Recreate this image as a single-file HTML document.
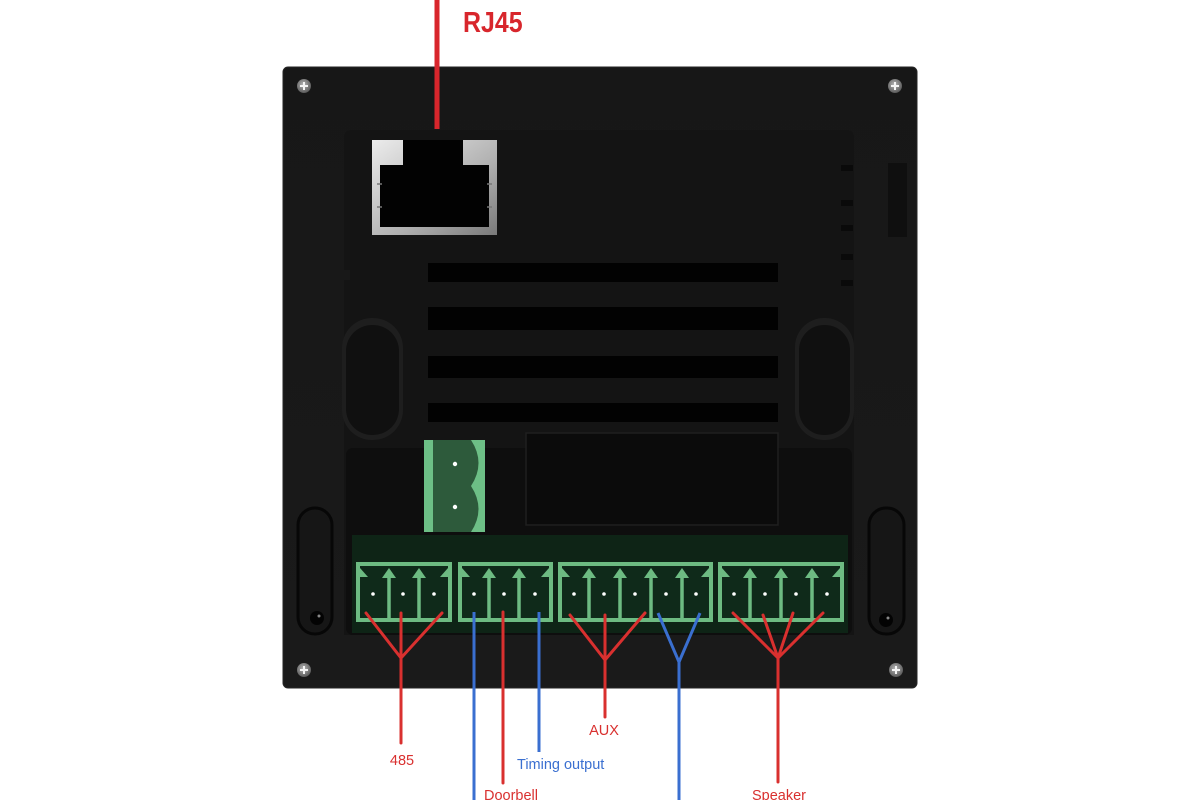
<!DOCTYPE html>
<html><head><meta charset="utf-8"><style>
html,body{margin:0;padding:0;background:#fff;}
svg{display:block;}
</style></head><body>
<svg width="1200" height="800" viewBox="0 0 1200 800" xmlns="http://www.w3.org/2000/svg">
<defs>
<radialGradient id="scr" cx="45%" cy="40%" r="60%"><stop offset="0" stop-color="#b8b8b8"/><stop offset="1" stop-color="#5a5a5a"/></radialGradient>
<linearGradient id="silver" x1="0" y1="0" x2="1" y2="1"><stop offset="0" stop-color="#ececec"/><stop offset="0.6" stop-color="#b0b0b0"/><stop offset="1" stop-color="#7a7a7a"/></linearGradient>
<linearGradient id="bodyg" x1="0" y1="0" x2="0" y2="1"><stop offset="0" stop-color="#171717"/><stop offset="1" stop-color="#1a1a1a"/></linearGradient>
</defs>
<rect width="1200" height="800" fill="#fff"/>
<!-- body -->
<rect x="283" y="67" width="634" height="621" rx="5" fill="url(#bodyg)" stroke="#262626" stroke-width="1"/>
<!-- inner panel -->
<path d="M352,130 L846,130 Q854,130 854,138 L854,635 L344,635 L344,280 L350,280 L350,270 L344,270 L344,138 Q344,130 352,130 Z" fill="#141414"/>
<!-- right side marks -->
<g fill="#0a0a0a">
<rect x="841" y="165" width="12" height="6"/><rect x="841" y="200" width="12" height="6"/><rect x="841" y="225" width="12" height="6"/><rect x="841" y="254" width="12" height="6"/><rect x="841" y="280" width="12" height="6"/>
</g>
<rect x="888" y="163" width="19" height="74" fill="#0f0f0f"/>
<!-- RJ45 port -->
<rect x="372" y="140" width="125" height="95" fill="url(#silver)"/>
<polygon points="403,140 463,140 463,165 489,165 489,227 380,227 380,165 403,165" fill="#020202"/>
<g stroke="#777" stroke-width="1.5"><line x1="377" y1="184" x2="382" y2="184"/><line x1="377" y1="207" x2="382" y2="207"/><line x1="487" y1="184" x2="492" y2="184"/><line x1="487" y1="207" x2="492" y2="207"/></g>
<!-- vents -->
<g fill="#020202">
<rect x="428" y="263" width="350" height="19"/><rect x="428" y="307" width="350" height="23"/><rect x="428" y="356" width="350" height="22"/><rect x="428" y="403" width="350" height="19"/>
</g>
<!-- ovals -->
<rect x="342" y="318" width="61" height="122" rx="30" fill="#1e1e1e"/>
<rect x="346" y="325" width="53" height="110" rx="26" fill="#101010"/>
<rect x="795" y="318" width="59" height="122" rx="29" fill="#1e1e1e"/>
<rect x="799" y="325" width="51" height="110" rx="25" fill="#101010"/>
<!-- lower panel -->
<rect x="346" y="448" width="506" height="187" rx="7" fill="#0e0e0e"/>
<!-- display -->
<rect x="526" y="433" width="252" height="92" fill="#0b0b0b" stroke="#1f1f1f" stroke-width="1.5"/>
<!-- green 2-pin connector -->
<rect x="424" y="440" width="61" height="92" fill="#6dbf86"/>
<path d="M433,440 L471,440 Q486,463 471,486 Q486,509 471,532 L433,532 Z" fill="#2d5a3b"/>
<circle cx="455" cy="464" r="2.2" fill="#fff"/><circle cx="455" cy="507" r="2.2" fill="#fff"/>
<!-- side slots -->
<rect x="298" y="508" width="34" height="126" rx="17" fill="#161616" stroke="#070707" stroke-width="3"/>
<circle cx="317" cy="618" r="7" fill="#030303"/><circle cx="319" cy="616" r="1.5" fill="#888"/>
<rect x="869" y="508" width="35" height="126" rx="17" fill="#161616" stroke="#070707" stroke-width="3"/>
<circle cx="886" cy="620" r="7" fill="#030303"/><circle cx="888" cy="618" r="1.5" fill="#888"/>
<!-- terminal base -->
<rect x="352" y="535" width="496" height="98" fill="#0e2416"/>
<!-- terminal blocks -->
<g stroke="#6dbb82" fill="none">
<rect x="358" y="564" width="92" height="56" stroke-width="4" fill="#0f2a1a"/>
<rect x="460" y="564" width="91" height="56" stroke-width="4" fill="#0f2a1a"/>
<rect x="560" y="564" width="151" height="56" stroke-width="4" fill="#0f2a1a"/>
<rect x="720" y="564" width="122" height="56" stroke-width="4" fill="#0f2a1a"/>
<g stroke-width="3.5">
<line x1="389" y1="575" x2="389" y2="620"/><line x1="419" y1="575" x2="419" y2="620"/>
<line x1="489" y1="575" x2="489" y2="620"/><line x1="519" y1="575" x2="519" y2="620"/>
<line x1="589" y1="575" x2="589" y2="620"/><line x1="620" y1="575" x2="620" y2="620"/><line x1="651" y1="575" x2="651" y2="620"/><line x1="682" y1="575" x2="682" y2="620"/>
<line x1="750" y1="575" x2="750" y2="620"/><line x1="781" y1="575" x2="781" y2="620"/><line x1="812" y1="575" x2="812" y2="620"/>
</g>
</g>
<g fill="#6dbb82">
<polygon points="389,568 382,578 396,578"/><polygon points="419,568 412,578 426,578"/>
<polygon points="489,568 482,578 496,578"/><polygon points="519,568 512,578 526,578"/>
<polygon points="589,568 582,578 596,578"/><polygon points="620,568 613,578 627,578"/><polygon points="651,568 644,578 658,578"/><polygon points="682,568 675,578 689,578"/>
<polygon points="750,568 743,578 757,578"/><polygon points="781,568 774,578 788,578"/><polygon points="812,568 805,578 819,578"/>
<polygon points="360,568 368,577 360,577"/><polygon points="448,568 440,577 448,577"/>
<polygon points="462,568 470,577 462,577"/><polygon points="549,568 541,577 549,577"/>
<polygon points="562,568 570,577 562,577"/><polygon points="709,568 701,577 709,577"/>
<polygon points="722,568 730,577 722,577"/><polygon points="840,568 832,577 840,577"/>
</g>
<g fill="#fff">
<circle cx="373" cy="594" r="1.8"/><circle cx="403" cy="594" r="1.8"/><circle cx="434" cy="594" r="1.8"/>
<circle cx="474" cy="594" r="1.8"/><circle cx="504" cy="594" r="1.8"/><circle cx="535" cy="594" r="1.8"/>
<circle cx="574" cy="594" r="1.8"/><circle cx="604" cy="594" r="1.8"/><circle cx="635" cy="594" r="1.8"/><circle cx="666" cy="594" r="1.8"/><circle cx="696" cy="594" r="1.8"/>
<circle cx="734" cy="594" r="1.8"/><circle cx="765" cy="594" r="1.8"/><circle cx="796" cy="594" r="1.8"/><circle cx="827" cy="594" r="1.8"/>
</g>
<!-- screws -->
<g>
<circle cx="304" cy="86" r="7" fill="url(#scr)"/><circle cx="895" cy="86" r="7" fill="url(#scr)"/>
<circle cx="304" cy="670" r="7" fill="url(#scr)"/><circle cx="896" cy="670" r="7" fill="url(#scr)"/>
<g stroke="#f4f4f4" stroke-width="2">
<line x1="300" y1="86" x2="308" y2="86"/><line x1="304" y1="82" x2="304" y2="90"/>
<line x1="891" y1="86" x2="899" y2="86"/><line x1="895" y1="82" x2="895" y2="90"/>
<line x1="300" y1="670" x2="308" y2="670"/><line x1="304" y1="666" x2="304" y2="674"/>
<line x1="892" y1="670" x2="900" y2="670"/><line x1="896" y1="666" x2="896" y2="674"/>
</g>
</g>
<!-- RJ45 leader -->
<line x1="437" y1="0" x2="437" y2="129" stroke="#d8262c" stroke-width="5"/>
<text x="463" y="32" transform="translate(463 0) scale(0.86 1) translate(-463 0)" font-family="Liberation Sans, sans-serif" font-weight="bold" font-size="29" fill="#d8262c">RJ45</text>
<!-- wires -->
<g stroke="#d9302f" stroke-width="3" fill="none" stroke-linecap="round" stroke-linejoin="round">
<polyline points="366,613 401,658 442,613"/><line x1="401" y1="613" x2="401" y2="743"/>
<line x1="503" y1="612" x2="503" y2="783"/>
<polyline points="570,615 605,660 645,613"/><line x1="605" y1="615" x2="605" y2="717"/>
<polyline points="733,613 778,658 823,613"/><polyline points="763,615 778,658 793,613"/><line x1="778" y1="658" x2="778" y2="782"/>
</g>
<g stroke="#3a6fd0" stroke-width="3" fill="none" stroke-linejoin="round">
<line x1="474" y1="612" x2="474" y2="800"/>
<line x1="539" y1="612" x2="539" y2="752"/>
<polyline points="658,613 679,662 700,613"/><line x1="679" y1="662" x2="679" y2="800"/>
</g>
<!-- labels -->
<g font-family="Liberation Sans, sans-serif" font-size="14.5">
<text x="402" y="765" text-anchor="middle" fill="#d9302f">485</text>
<text x="517" y="769" fill="#3a6fd0">Timing output</text>
<text x="604" y="735" text-anchor="middle" fill="#d9302f">AUX</text>
<text x="484" y="800" fill="#d9302f">Doorbell</text>
<text x="752" y="800" fill="#d9302f">Speaker</text>
</g>
</svg>
</body></html>
